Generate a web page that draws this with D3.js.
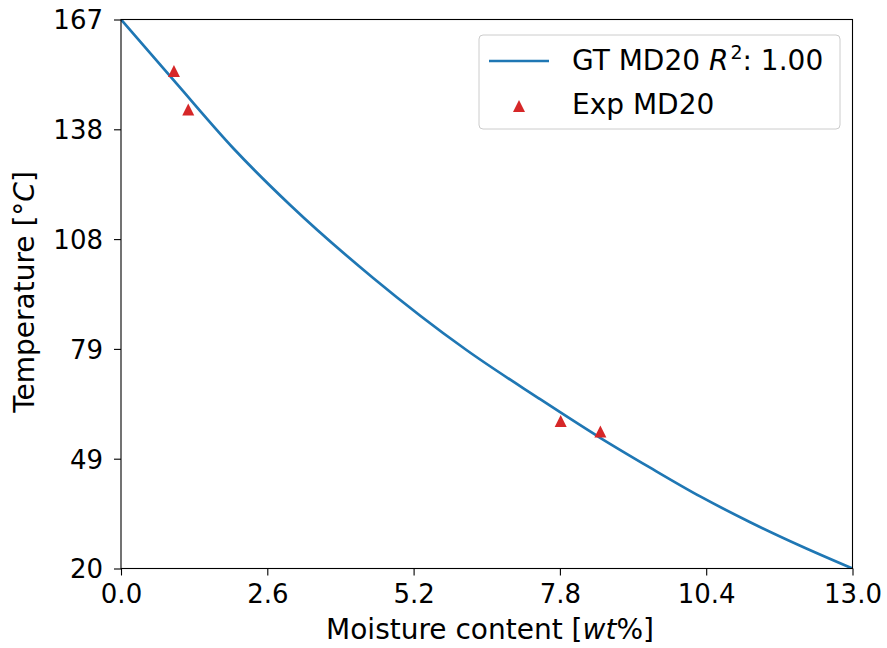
<!DOCTYPE html>
<html><head><meta charset="utf-8">
<script src="https://cdn.jsdelivr.net/npm/d3@7"></script>
<style>body{margin:0;background:#fff}svg{display:block}text{font-family:"DejaVu Sans",sans-serif}</style>
</head><body><svg id="c" width="887" height="648"></svg>
<script>
const curveX = [0, 1.0, 1.991, 3.001, 4.481, 6.139, 7.411, 8.516, 9.404, 10.293, 11.182, 12.071, 13.0];
const curveT = [167, 149.6, 132.6, 117.4, 97.8, 78.5, 65.7, 55.0, 47.0, 39.3, 32.4, 26.1, 20.0];
const expX = [0.941, 1.195, 7.814, 8.519];
const expT = [153.2, 142.9, 59.5, 56.7];
const xTicks = [0, 2.6, 5.2, 7.8, 10.4, 13.0];
const xTickLabels = ["0.0", "2.6", "5.2", "7.8", "10.4", "13.0"];
const yTicks = [20, 49.4, 78.8, 108.2, 137.6, 167];
const yTickLabels = ["20", "49", "79", "108", "138", "167"];

const svg = d3.select("#c");
const L = 121, R = 852.5, T = 19.5, B = 568.5;
const x = d3.scaleLinear().domain([0, 13]).range([L, R]);
const y = d3.scaleLinear().domain([20, 167]).range([B, T]);

svg.append("defs").append("clipPath").attr("id","clp").append("rect")
  .attr("x", L).attr("y", T).attr("width", R-L).attr("height", B-T);

const line = d3.line().x(d => x(d[0])).y(d => y(d[1])).curve(d3.curveMonotoneX);
svg.append("path").datum(curveX.map((v,i)=>[v, curveT[i]]))
  .attr("d", line).attr("fill","none").attr("stroke","#1f77b4").attr("stroke-width",2.7)
  .attr("clip-path","url(#clp)");

const triPath = h => `M0,${-h}L${h},${h}L${-h},${h}Z`;
svg.append("g").selectAll("path").data(expX.map((v,i)=>[v, expT[i]])).join("path")
  .attr("d", triPath(6)).attr("transform", d => `translate(${x(d[0])},${y(d[1])})`)
  .attr("fill", "#d62728");

// axes
const xAx = svg.append("g").attr("transform", `translate(0,${B})`)
  .call(d3.axisBottom(x).tickValues(xTicks).tickFormat((d,i)=>xTickLabels[i]).tickSize(7).tickPadding(9));
const yAx = svg.append("g").attr("transform", `translate(${L},0)`)
  .call(d3.axisLeft(y).tickValues(yTicks).tickFormat((d,i)=>yTickLabels[i]).tickSize(7).tickPadding(11));
[xAx, yAx].forEach(g => {
  g.select(".domain").remove();
  g.selectAll("line").attr("stroke","#000").attr("stroke-width",1.1);
  g.selectAll("text").attr("font-size", 26).attr("fill","#000").attr("font-family","DejaVu Sans");
});
yAx.selectAll("text").attr("dy","0.36em");
svg.append("rect").attr("x", L).attr("y", T).attr("width", R-L).attr("height", B-T)
  .attr("fill","none").attr("stroke","#000").attr("stroke-width",1.1);

// axis labels
const xl = svg.append("text").attr("x", 490).attr("y", 639).attr("text-anchor","middle").attr("font-size",28);
xl.append("tspan").text("Moisture content [");
xl.append("tspan").attr("font-style","italic").text("wt");
xl.append("tspan").text("%]");
const yl = svg.append("text").attr("transform", `translate(34,${292}) rotate(-90)`).attr("text-anchor","middle").attr("font-size",28);
yl.append("tspan").text("Temperature [°");
yl.append("tspan").attr("font-style","italic").text("C");
yl.append("tspan").text("]");

// legend
const lg = svg.append("g");
lg.append("rect").attr("x",479).attr("y",35).attr("width",361).attr("height",94).attr("rx",4)
  .attr("fill","#fff").attr("fill-opacity",0.8).attr("stroke","#ccc").attr("stroke-width",1);
lg.append("line").attr("x1",489).attr("x2",549).attr("y1",61).attr("y2",61).attr("stroke","#1f77b4").attr("stroke-width",2.7);
const t1 = lg.append("text").attr("x",572).attr("y",70).attr("font-size",28);
t1.append("tspan").text("GT MD20 ");
t1.append("tspan").attr("font-style","italic").text("R");
t1.append("tspan").attr("font-size",19).attr("dy",-11).attr("dx",2).text("2");
t1.append("tspan").attr("dy",11).text(": 1.00");
lg.append("path").attr("d", triPath(6)).attr("transform","translate(519,106)").attr("fill","#d62728");
lg.append("text").attr("x",572).attr("y",114).attr("font-size",28).text("Exp MD20");
</script></body></html>
